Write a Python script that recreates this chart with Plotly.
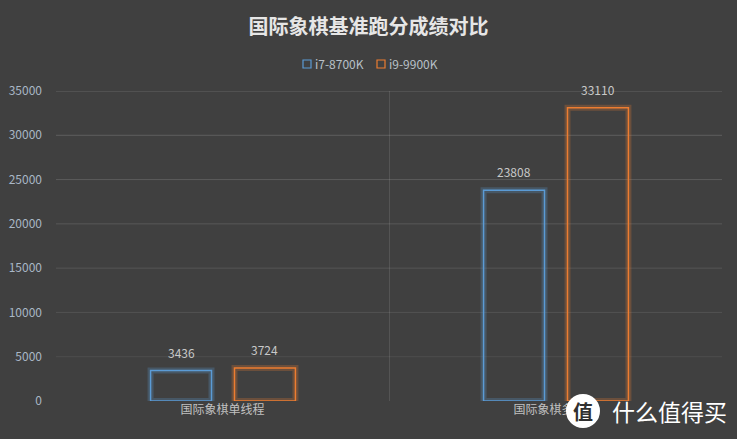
import plotly.graph_objects as go

categories = ["国际象棋单线程", "国际象棋多线程"]
series_names = ["i7-8700K", "i9-9900K"]
i7_values = [3436, 23808]
i9_values = [3724, 33110]
y_ticks = [0, 5000, 10000, 15000, 20000, 25000, 30000, 35000]

colors = ["#5b9bd5", "#ed7d31"]
glow = ["rgba(91,155,213,0.25)", "rgba(237,125,49,0.25)"]
offsets = [-0.216, 0.036]
bar_w = 0.183

L, R, T, B = 56, 15, 91, 38
W, H = 737, 439
pw, ph = W - L - R, H - T - B

def px(x):
    return (x - L) / pw

def py(y):
    return (H - B - y) / ph

fig = go.Figure()
for vals, g, off in zip([i7_values, i9_values], glow, offsets):
    fig.add_trace(go.Bar(x=categories, y=vals, width=bar_w, offset=off,
                         marker=dict(color="rgba(0,0,0,0)", line=dict(color=g, width=6)),
                         showlegend=False, hoverinfo="skip"))
for vals, name, c, off in zip([i7_values, i9_values], series_names, colors, offsets):
    fig.add_trace(go.Bar(x=categories, y=vals, name=name, width=bar_w, offset=off,
                         marker=dict(color="rgba(0,0,0,0)", line=dict(color=c, width=1.5)),
                         showlegend=False))
    # value labels
    for cat, v in zip(categories, vals):
        fig.add_annotation(x=cat, y=v, xref="x", yref="y", text=str(v), showarrow=False,
                           xanchor="center", yanchor="bottom",
                           xshift=(off + bar_w / 2) * pw / 2, yshift=8,
                           font=dict(size=12, color="#c8c8c8"))

# horizontal gridlines fading toward the bottom
for v in y_ticks[1:]:
    a = 0.08 + 0.17 * (v / y_ticks[-1])
    fig.add_shape(type="line", xref="paper", yref="y", x0=0, x1=1, y0=v, y1=v,
                  line=dict(color=f"rgba(200,200,200,{a:.3f})", width=1), layer="below")

# custom legend
leg_sq = [303, 377]
for name, c, sx in zip(series_names, colors, leg_sq):
    fig.add_shape(type="rect", xref="paper", yref="paper", x0=px(sx), x1=px(sx + 8),
                  y0=py(68), y1=py(60), line=dict(color=c, width=1.2), fillcolor="rgba(0,0,0,0)")
    fig.add_annotation(text=name, xref="paper", yref="paper", x=px(sx + 10), y=py(64),
                       xanchor="left", yanchor="middle", showarrow=False,
                       font=dict(size=12, color="#b8c0c8"))

fig.update_layout(
    width=W, height=H,
    paper_bgcolor="#404040", plot_bgcolor="#404040",
    font=dict(family="Noto Sans CJK SC, Noto Sans, sans-serif", color="#bfbfbf"),
    barmode="overlay",
    margin=dict(l=L, r=R, t=T, b=B),
    title=dict(text="<b>国际象棋基准跑分成绩对比</b>", x=0.5, xanchor="center", y=1 - 27 / H, yanchor="middle",
               font=dict(size=20, color="#e6e6e6")),
    xaxis=dict(type="category", range=[-0.5, 1.5], tickson="boundaries", showgrid=True,
               gridcolor="rgba(200,200,200,0.15)", gridwidth=1, ticks="", showline=False,
               tickfont=dict(size=12, color="#c0c0c0"), zeroline=False, automargin=False),
    yaxis=dict(range=[0, 35000], tickvals=y_ticks, tickformat="d", showgrid=False,
               zeroline=False, showline=False, tickfont=dict(size=12, color="#a9b7c6"),
               ticklabelstandoff=13, automargin=False),
    showlegend=False,
)

# watermark
cx, cy, r = 583, 411, 16
fig.add_shape(type="circle", xref="paper", yref="paper", x0=px(cx - r), x1=px(cx + r),
              y0=py(cy + r), y1=py(cy - r), fillcolor="white", line=dict(color="white"))
fig.add_annotation(text="<b>值</b>", xref="paper", yref="paper", x=px(cx), y=py(cy), showarrow=False,
                   xanchor="center", yanchor="middle", font=dict(size=20, color="#303030"))
fig.add_annotation(text="什么值得买", xref="paper", yref="paper", x=px(610), y=py(411), xanchor="left",
                   yanchor="middle", showarrow=False, font=dict(size=23, color="white"))

fig.write_html("out.html", config={"displayModeBar": False},
               post_script="document.body.style.margin='0';")
